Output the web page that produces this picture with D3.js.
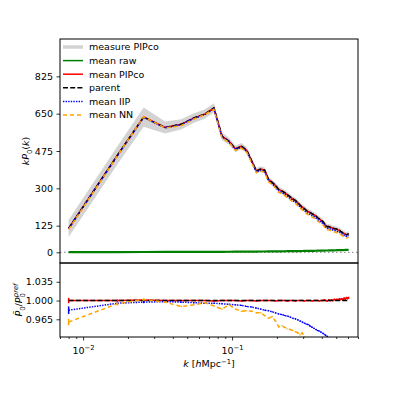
<!DOCTYPE html>
<html>
<head>
<meta charset="utf-8">
<script src="https://cdn.jsdelivr.net/npm/d3@7"></script>
<style>
  body { margin: 0; background: #fff; }
  svg { font-family: "DejaVu Sans", sans-serif; }
</style>
</head>
<body>
<div id="chart"></div>
<script>
// k bins (h/Mpc)
const kValues = [0.008, 0.017, 0.0255, 0.0355, 0.0455, 0.0555, 0.0655, 0.0755, 0.0855, 0.0955,
    0.1055, 0.1155, 0.1255, 0.1355, 0.1455, 0.1555, 0.1655, 0.1755, 0.1855, 0.1955,
    0.2055, 0.2155, 0.2255, 0.2355, 0.2455, 0.2555, 0.2655, 0.2755, 0.2855, 0.2955,
    0.3055, 0.3155, 0.3255, 0.3355, 0.3455, 0.3555, 0.3655, 0.3755, 0.3855, 0.3955,
    0.4055, 0.4155, 0.4255, 0.4355, 0.4455, 0.4555, 0.4655, 0.4755, 0.4855, 0.4955,
    0.5055, 0.5155, 0.5255, 0.5355, 0.5455, 0.5555, 0.5655, 0.5755, 0.5855, 0.5955, 0.6055];

// k P0(k) of the parent sample
const parentKP = [112, 455, 634, 585, 600, 630, 648, 677, 545, 520,
    485, 498, 478, 428, 382, 390, 385, 342, 328, 314,
    295, 288, 280, 270, 260, 250, 244, 233, 222, 212,
    205, 196, 190, 186, 180, 176, 170, 162, 157, 150,
    145, 136, 125, 120, 121, 118, 115, 113, 111, 110,
    108, 104, 103, 98, 95, 90, 88, 85, 82, 84, 88];

// half width of the grey spread of the individual PIPco measurements
const measureSpread = [40, 42, 45, 28, 24, 22, 22, 22, 18, 16,
    15, 15, 14, 14, 13, 13, 13, 12, 12, 12,
    12, 12, 12, 12, 12, 12, 12, 12, 12, 12,
    12, 12, 12, 12, 12, 12, 12, 12, 12, 12,
    12, 12, 12, 12, 12, 12, 12, 12, 12, 12,
    12, 12, 12, 12, 12, 12, 12, 12, 12, 12, 12];

const meanRaw = [0.8, 1.2, 1.5, 1.8, 2.0, 2.2, 2.4, 2.6, 2.6, 2.8,
    3.0, 3.2, 3.3, 3.5, 3.6, 3.8, 4.0, 4.1, 4.3, 4.5,
    4.6, 4.8, 5.0, 5.2, 5.3, 5.5, 5.7, 5.9, 6.0, 6.2,
    6.4, 6.6, 6.7, 6.9, 7.1, 7.3, 7.4, 7.6, 7.8, 8.0,
    8.1, 8.3, 8.5, 8.7, 8.8, 9.0, 9.2, 9.4, 9.5, 9.7,
    9.9, 10.1, 10.2, 10.4, 10.6, 10.8, 10.9, 11.1, 11.3, 11.5, 11.6];

// ratios to the parent
const ratioPIPco = [1.000, 1.000, 1.001, 1.000, 1.000, 1.000, 1.000, 0.999, 1.000, 1.000,
    1.000, 0.999, 1.000, 1.000, 0.999, 1.000, 1.000, 1.000, 1.000, 0.999,
    1.000, 1.000, 1.000, 0.999, 1.000, 1.000, 0.999, 1.000, 1.000, 1.000,
    0.999, 1.000, 1.000, 1.000, 0.999, 1.000, 1.000, 1.000, 0.999, 1.000,
    1.000, 1.001, 1.000, 0.999, 1.001, 1.000, 1.001, 1.000, 1.002, 1.001,
    1.002, 1.001, 1.003, 1.002, 1.003, 1.002, 1.004, 1.003, 1.005, 1.004, 1.005];

const ratioIIP = [0.982, 0.995, 0.997, 0.998, 0.997, 0.996, 0.995, 0.995, 0.994, 0.993,
    0.992, 0.991, 0.989, 0.988, 0.986, 0.984, 0.982, 0.981, 0.979, 0.977,
    0.975, 0.974, 0.972, 0.971, 0.969, 0.967, 0.966, 0.964, 0.962, 0.960,
    0.958, 0.956, 0.955, 0.952, 0.950, 0.948, 0.946, 0.944, 0.943, 0.941,
    0.939, 0.937, 0.935, 0.933, 0.931, 0.929, 0.927, 0.925, 0.923, 0.921,
    0.919, 0.917, 0.915, 0.913, 0.911, 0.909, 0.907, 0.905, 0.903, 0.901, 0.899];

const ratioNN = [0.960, 0.994, 1.002, 0.997, 0.989, 0.992, 0.996, 0.990, 0.984, 0.992,
    0.984, 0.980, 0.981, 0.980, 0.977, 0.977, 0.972, 0.967, 0.970, 0.962,
    0.951, 0.953, 0.950, 0.947, 0.946, 0.944, 0.942, 0.940, 0.936, 0.940,
    0.932, 0.925, 0.921, 0.918, 0.914, 0.910, 0.906, 0.903, 0.899, 0.895,
    0.891, 0.888, 0.884, 0.880, 0.876, 0.872, 0.869, 0.865, 0.861, 0.857,
    0.853, 0.850, 0.846, 0.842, 0.838, 0.834, 0.831, 0.827, 0.823, 0.819, 0.815];

const errPIPco = [0.005, 0.002, 0.0015, 0.0012, 0.001, 0.001, 0.001, 0.001, 0.001, 0.001,
    0.001, 0.001, 0.001, 0.001, 0.001, 0.001, 0.001, 0.001, 0.001, 0.001,
    0.001, 0.001, 0.001, 0.001, 0.001, 0.001, 0.001, 0.001, 0.001, 0.001,
    0.001, 0.001, 0.001, 0.001, 0.001, 0.001, 0.001, 0.001, 0.001, 0.001,
    0.0012, 0.0012, 0.0013, 0.0013, 0.0014, 0.0014, 0.0015, 0.0015, 0.0016, 0.0016,
    0.0017, 0.0017, 0.0018, 0.0018, 0.0019, 0.0019, 0.002, 0.002, 0.002, 0.0021, 0.0022];

const errIIP = [0.007, 0.003, 0.002, 0.0015, 0.0012, 0.001, 0.001, 0.001, 0.001, 0.001,
    0.001, 0.001, 0.001, 0.001, 0.001, 0.001, 0.001, 0.001, 0.001, 0.001,
    0.001, 0.001, 0.001, 0.001, 0.001, 0.001, 0.001, 0.001, 0.001, 0.001,
    0.001, 0.001, 0.001, 0.001, 0.001, 0.001, 0.001, 0.001, 0.001, 0.001,
    0.001, 0.001, 0.001, 0.001, 0.001, 0.001, 0.001, 0.001, 0.001, 0.001,
    0.001, 0.001, 0.001, 0.001, 0.001, 0.001, 0.001, 0.001, 0.001, 0.001, 0.001];

const errNN = [0.006, 0.003, 0.002, 0.0015, 0.0012, 0.001, 0.001, 0.001, 0.001, 0.001,
    0.001, 0.001, 0.001, 0.001, 0.001, 0.001, 0.001, 0.001, 0.001, 0.001,
    0.001, 0.001, 0.001, 0.001, 0.001, 0.001, 0.001, 0.001, 0.001, 0.001,
    0.001, 0.001, 0.001, 0.001, 0.001, 0.001, 0.001, 0.001, 0.001, 0.001,
    0.001, 0.001, 0.001, 0.001, 0.001, 0.001, 0.001, 0.001, 0.001, 0.001,
    0.001, 0.001, 0.001, 0.001, 0.001, 0.001, 0.001, 0.001, 0.001, 0.001, 0.001];

const topTicks = [0, 125, 300, 475, 650, 825];
const bottomTicks = [0.965, 1.000, 1.035];
const xMajorTicks = [0.01, 0.1];
const xMajorLabels = ["\u22122", "\u22121"];
const xMinorTicks = [0.007, 0.008, 0.009, 0.02, 0.03, 0.04, 0.05, 0.06, 0.07, 0.08, 0.09,
    0.2, 0.3, 0.4, 0.5, 0.6, 0.7];
const legendLabels = ["measure PIPco", "mean raw", "mean PIPco", "parent", "mean IIP", "mean NN"];

const GREY = "#d3d3d3";
const FONT = 9.5;

const styles = {
    measure: { color: GREY, width: 3.5, dash: null },
    raw: { color: "#008000", width: 1.5, dash: null },
    pipco: { color: "#ff0000", width: 1.5, dash: null },
    parent: { color: "#000000", width: 1.5, dash: "5,2.2" },
    iip: { color: "#0000ff", width: 1.5, dash: "1.4,1.2" },
    nn: { color: "#ffa500", width: 1.5, dash: "4,3" }
};
const legendStyles = [styles.measure, styles.raw, styles.pipco, styles.parent, styles.iip, styles.nn];

const left = 60, right = 358;
const topY0 = 39, topY1 = 263, botY0 = 263, botY1 = 337;

const x = d3.scaleLog().domain([0.007, 0.7]).range([left, right]);
const yTop = d3.scaleLinear().domain([-50, 1000]).range([topY1, topY0]);
const yBot = d3.scaleLinear().domain([0.932, 1.07]).range([botY1, botY0]);

const svg = d3.select("#chart").append("svg")
    .attr("width", 398)
    .attr("height", 398);

const defs = svg.append("defs");
defs.append("clipPath").attr("id", "clipTop").append("rect")
    .attr("x", left).attr("y", topY0).attr("width", right - left).attr("height", topY1 - topY0);
defs.append("clipPath").attr("id", "clipBot").append("rect")
    .attr("x", left).attr("y", botY0).attr("width", right - left).attr("height", botY1 - botY0);

// ---------- top panel ----------
const topG = svg.append("g").attr("clip-path", "url(#clipTop)");

const idx = d3.range(kValues.length);

topG.append("path")
    .datum(idx)
    .attr("fill", GREY)
    .attr("d", d3.area()
        .x(i => x(kValues[i]))
        .y0(i => yTop(parentKP[i] - measureSpread[i]))
        .y1(i => yTop(parentKP[i] + measureSpread[i])));

topG.append("line")
    .attr("x1", left).attr("x2", right)
    .attr("y1", yTop(0)).attr("y2", yTop(0))
    .attr("stroke", "#808080")
    .attr("stroke-width", 1)
    .attr("stroke-dasharray", "1.5,2.5");

function drawLine(g, values, yScale, st) {
    g.append("path")
        .datum(idx)
        .attr("fill", "none")
        .attr("stroke", st.color)
        .attr("stroke-width", st.width)
        .attr("stroke-dasharray", st.dash)
        .attr("d", d3.line()
            .x(i => x(kValues[i]))
            .y(i => yScale(values[i])));
}

drawLine(topG, meanRaw, yTop, { color: styles.raw.color, width: 2.2, dash: null });
drawLine(topG, parentKP.map((v, i) => v * ratioPIPco[i]), yTop, styles.pipco);
drawLine(topG, parentKP, yTop, styles.parent);
drawLine(topG, parentKP.map((v, i) => v * ratioIIP[i]), yTop, styles.iip);
drawLine(topG, parentKP.map((v, i) => v * ratioNN[i]), yTop, styles.nn);

// ---------- bottom panel ----------
const botG = svg.append("g").attr("clip-path", "url(#clipBot)");

function drawErrors(g, values, errs, color) {
    g.append("g").selectAll("line")
        .data(idx)
        .enter().append("line")
        .attr("x1", i => x(kValues[i]))
        .attr("x2", i => x(kValues[i]))
        .attr("y1", i => yBot(values[i] - errs[i]))
        .attr("y2", i => yBot(values[i] + errs[i]))
        .attr("stroke", color)
        .attr("stroke-width", 1.5);
}

drawErrors(botG, ratioPIPco, errPIPco, styles.pipco.color);
drawLine(botG, ratioPIPco, yBot, styles.pipco);
drawLine(botG, kValues.map(() => 1), yBot, styles.parent);
drawErrors(botG, ratioIIP, errIIP, styles.iip.color);
drawLine(botG, ratioIIP, yBot, styles.iip);
drawErrors(botG, ratioNN, errNN, styles.nn.color);
drawLine(botG, ratioNN, yBot, styles.nn);

// ---------- frames ----------
[[topY0, topY1], [botY0, botY1]].forEach(([a, b]) => {
    svg.append("rect")
        .attr("x", left).attr("y", a)
        .attr("width", right - left).attr("height", b - a)
        .attr("fill", "none")
        .attr("stroke", "#000")
        .attr("stroke-width", 1);
});

// ---------- axes ----------
function styleAxis(g) {
    g.select(".domain").remove();
    g.selectAll("line").attr("stroke", "#000").attr("stroke-width", 0.8);
    g.selectAll("text").attr("fill", "#000").style("font-size", FONT + "px")
        .style("font-family", "DejaVu Sans");
}

svg.append("g")
    .attr("transform", `translate(${left},0)`)
    .call(d3.axisLeft(yTop).tickValues(topTicks).tickSize(3.5).tickPadding(3.5).tickFormat(d3.format("d")))
    .call(styleAxis);

svg.append("g")
    .attr("transform", `translate(${left},0)`)
    .call(d3.axisLeft(yBot).tickValues(bottomTicks).tickSize(3.5).tickPadding(3.5).tickFormat(d3.format(".3f")))
    .call(styleAxis);

svg.append("g")
    .attr("transform", `translate(0,${botY1})`)
    .call(d3.axisBottom(x).tickValues(xMinorTicks).tickSize(2).tickFormat(""))
    .call(styleAxis);

const xMajor = svg.append("g")
    .attr("transform", `translate(0,${botY1})`)
    .call(d3.axisBottom(x).tickValues(xMajorTicks).tickSize(3.5).tickPadding(3.5))
    .call(styleAxis);

xMajor.selectAll(".tick text").each(function (d, i) {
    const t = d3.select(this).text("").attr("dy", "1em");
    t.append("tspan").text("10");
    t.append("tspan").attr("dy", "-0.45em").style("font-size", "6.8px").text(xMajorLabels[i]);
});

// ---------- axis labels ----------
const yLabTop = svg.append("text")
    .attr("transform", `translate(29,${(topY0 + topY1) / 2}) rotate(-90)`)
    .attr("text-anchor", "middle")
    .style("font-size", FONT + "px")
    .attr("fill", "#000");
yLabTop.append("tspan").style("font-style", "italic").text("kP");
yLabTop.append("tspan").attr("dy", 2.5).style("font-size", "6.8px").text("0");
yLabTop.append("tspan").attr("dy", -2.5).text("(");
yLabTop.append("tspan").style("font-style", "italic").text("k");
yLabTop.append("tspan").text(")");

const yLabBot = svg.append("text")
    .attr("transform", `translate(22,${(botY0 + botY1) / 2}) rotate(-90)`)
    .attr("text-anchor", "middle")
    .style("font-size", FONT + "px")
    .attr("fill", "#000");
yLabBot.append("tspan").style("font-style", "italic").text("P\u0303");
yLabBot.append("tspan").attr("dy", 2.5).style("font-size", "6.8px").text("0");
yLabBot.append("tspan").attr("dy", -2.5).text("/");
yLabBot.append("tspan").style("font-style", "italic").text("P");
yLabBot.append("tspan").attr("dy", 2.5).style("font-size", "6.8px").text("0");
yLabBot.append("tspan").attr("dy", -6.5).attr("dx", -4).style("font-size", "6.8px")
    .style("font-style", "italic").text("pref");

const xLab = svg.append("text")
    .attr("x", (left + right) / 2)
    .attr("y", 367)
    .attr("text-anchor", "middle")
    .style("font-size", FONT + "px")
    .attr("fill", "#000");
xLab.append("tspan").style("font-style", "italic").text("k");
xLab.append("tspan").text(" [");
xLab.append("tspan").style("font-style", "italic").text("h");
xLab.append("tspan").text("Mpc");
xLab.append("tspan").attr("dy", -3.5).style("font-size", "6.8px").text("\u22121");
xLab.append("tspan").attr("dy", 3.5).text("]");

// ---------- legend ----------
const legend = svg.append("g");
legendLabels.forEach((label, i) => {
    const yy = 47 + i * 13.6;
    const st = legendStyles[i];
    legend.append("line")
        .attr("x1", 63).attr("x2", 83)
        .attr("y1", yy).attr("y2", yy)
        .attr("stroke", st.color)
        .attr("stroke-width", st.width)
        .attr("stroke-dasharray", st.dash);
    legend.append("text")
        .attr("x", 89).attr("y", yy)
        .attr("dy", "0.35em")
        .style("font-size", FONT + "px")
        .attr("fill", "#000")
        .text(label);
});
</script>
</body>
</html>
